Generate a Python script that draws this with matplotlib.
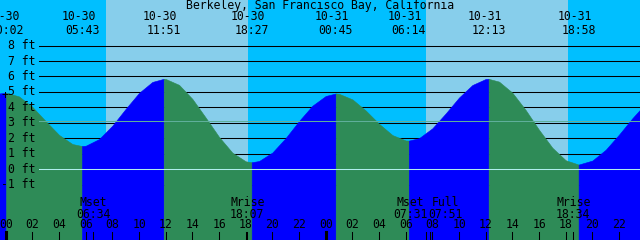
import matplotlib
matplotlib.use('Agg')
import matplotlib.pyplot as plt

# tide curve: hours after 10-30 00:00, height in ft
hours = [-0.5, 0.03, 1, 2, 3, 4, 5, 5.72, 6, 7, 8, 9, 10, 11, 11.85,
         12, 13, 14, 15, 16, 17, 18, 18.45, 19, 20, 21, 22, 23, 24, 24.75,
         25, 26, 27, 28, 29, 30, 30.23, 31, 32, 33, 34, 35, 36, 36.22,
         37, 38, 39, 40, 41, 42, 42.97, 44, 45, 46, 47, 47.7]
heights = [4.9, 4.95, 4.71, 4.03, 3.11, 2.22, 1.63, 1.50, 1.52, 1.95, 2.82, 3.91, 4.94, 5.65, 5.85,
           5.84, 5.46, 4.55, 3.34, 2.09, 1.07, 0.51, 0.45, 0.53, 1.08, 2.02, 3.12, 4.11, 4.74, 4.90,
           4.88, 4.52, 3.80, 2.94, 2.21, 1.86, 1.85, 2.01, 2.65, 3.61, 4.64, 5.45, 5.84, 5.85,
           5.67, 4.95, 3.83, 2.55, 1.39, 0.58, 0.30, 0.56, 1.26, 2.24, 3.30, 3.97]

# high / low tide labels along the top
tide_hours = [0.03, 5.72, 11.85, 18.45, 24.75, 30.23, 36.22, 42.97]
tide_dates = ['10-30', '10-30', '10-30', '10-30', '10-31', '10-31', '10-31', '10-31']
tide_times = ['00:02', '05:43', '11:51', '18:27', '00:45', '06:14', '12:13', '18:58']

# daylight (sunrise, sunset) in hours
days = [(7.53, 18.2), (31.53, 42.18)]

# moon events along the bottom
moon_hours = [6.57, 18.12, 31.52, 31.85, 42.57]
moon_names = ['Mset', 'Mrise', 'Mset', 'Full', 'Mrise']
moon_times = ['06:34', '18:07', '07:31', '07:51', '18:34']

ft_levels = [8, 7, 6, 5, 4, 3, 2, 1, 0, -1]
mean_level = 3.15
hour_ticks = list(range(0, 49, 2))

title = 'Berkeley, San Francisco Bay, California'

# pixel geometry of the 640x240 picture
X0, PXH = 5.7, 13.333     # px of 10-30 00:00, px per hour
Y0, PXF = 169.2, 15.45    # px row of 0 ft, px per ft
# labels that would collide are pushed apart (px)
moon_shift = [0, 0, -16, 15, 0]


def hx(px):
    return (px - X0) / PXH


def fy(py):
    return (Y0 - py) / PXF


night = '#00BFFF'
day = '#87CEEB'
rise = '#0000FF'
fall = '#2E8B57'
mono = 'DejaVu Sans Mono'
fs = 8.3

fig = plt.figure(figsize=(6.4, 2.4), dpi=100)
ax = fig.add_axes([0, 0, 1, 1])
ax.set_xlim(hx(0), hx(640))
ax.set_ylim(fy(240), fy(0))
ax.set_axis_off()
ax.set_facecolor(night)
fig.patch.set_facecolor(night)

for sr, ss in days:
    ax.axvspan(sr, ss, color=day, lw=0, zorder=0)

# depth lines (hidden under the water)
for lv in ft_levels:
    if lv != 0:
        ax.plot([hx(39), hx(640)], [lv, lv], color='black', lw=0.75, zorder=1)

# water, split into rising and falling runs
bottom = fy(240)
start = 0
for i in range(1, len(hours)):
    up = heights[i] > heights[i - 1]
    last = i == len(hours) - 1
    nxt_up = (heights[i + 1] > heights[i]) if not last else None
    if last or nxt_up != up:
        c = rise if up else fall
        ax.fill_between(hours[start:i + 1], bottom, heights[start:i + 1],
                        color=c, lw=0.4, edgecolor=c, zorder=2)
        start = i

ax.plot([hx(39), hx(640)], [mean_level, mean_level], color='#5FAF9A', lw=0.75, zorder=3)
ax.plot([hx(39), hx(640)], [0, 0], color='#AFEEEE', lw=0.75, zorder=3)

for lv in ft_levels:
    ax.text(hx(35), lv, '%d ft' % lv, ha='right', va='center',
            family=mono, fontsize=fs, zorder=5)

ax.text(hx(320), fy(6), title, ha='center', va='center', family=mono, fontsize=fs, zorder=5)
for h, d, t in zip(tide_hours, tide_dates, tide_times):
    ax.text(h - 3.5 / PXH, fy(17), d, ha='center', va='center', family=mono, fontsize=fs, zorder=5)
    ax.text(h, fy(30), t, ha='center', va='center', family=mono, fontsize=fs, zorder=5)

for h, n, t, s in zip(moon_hours, moon_names, moon_times, moon_shift):
    lx = h + s / PXH
    ax.text(lx, fy(202), n, ha='center', va='center', family=mono, fontsize=fs, zorder=5)
    ax.text(lx, fy(214), t, ha='center', va='center', family=mono, fontsize=fs, zorder=5)
    ax.plot([h, h], [fy(232), fy(240)], color='black', lw=0.75, zorder=5)

for h in hour_ticks:
    ax.text(h, fy(225), '%02d' % (h % 24), ha='center', va='center', family=mono, fontsize=fs, zorder=5)
    ax.plot([h, h], [fy(232), fy(240)], color='black',
            lw=2.2 if h % 24 == 0 else 0.75, zorder=5)

ax.text(hx(5), fy(96), '+', ha='center', va='center', family=mono, fontsize=fs, zorder=6)

fig.savefig('out.png', dpi=100, facecolor=fig.get_facecolor())
